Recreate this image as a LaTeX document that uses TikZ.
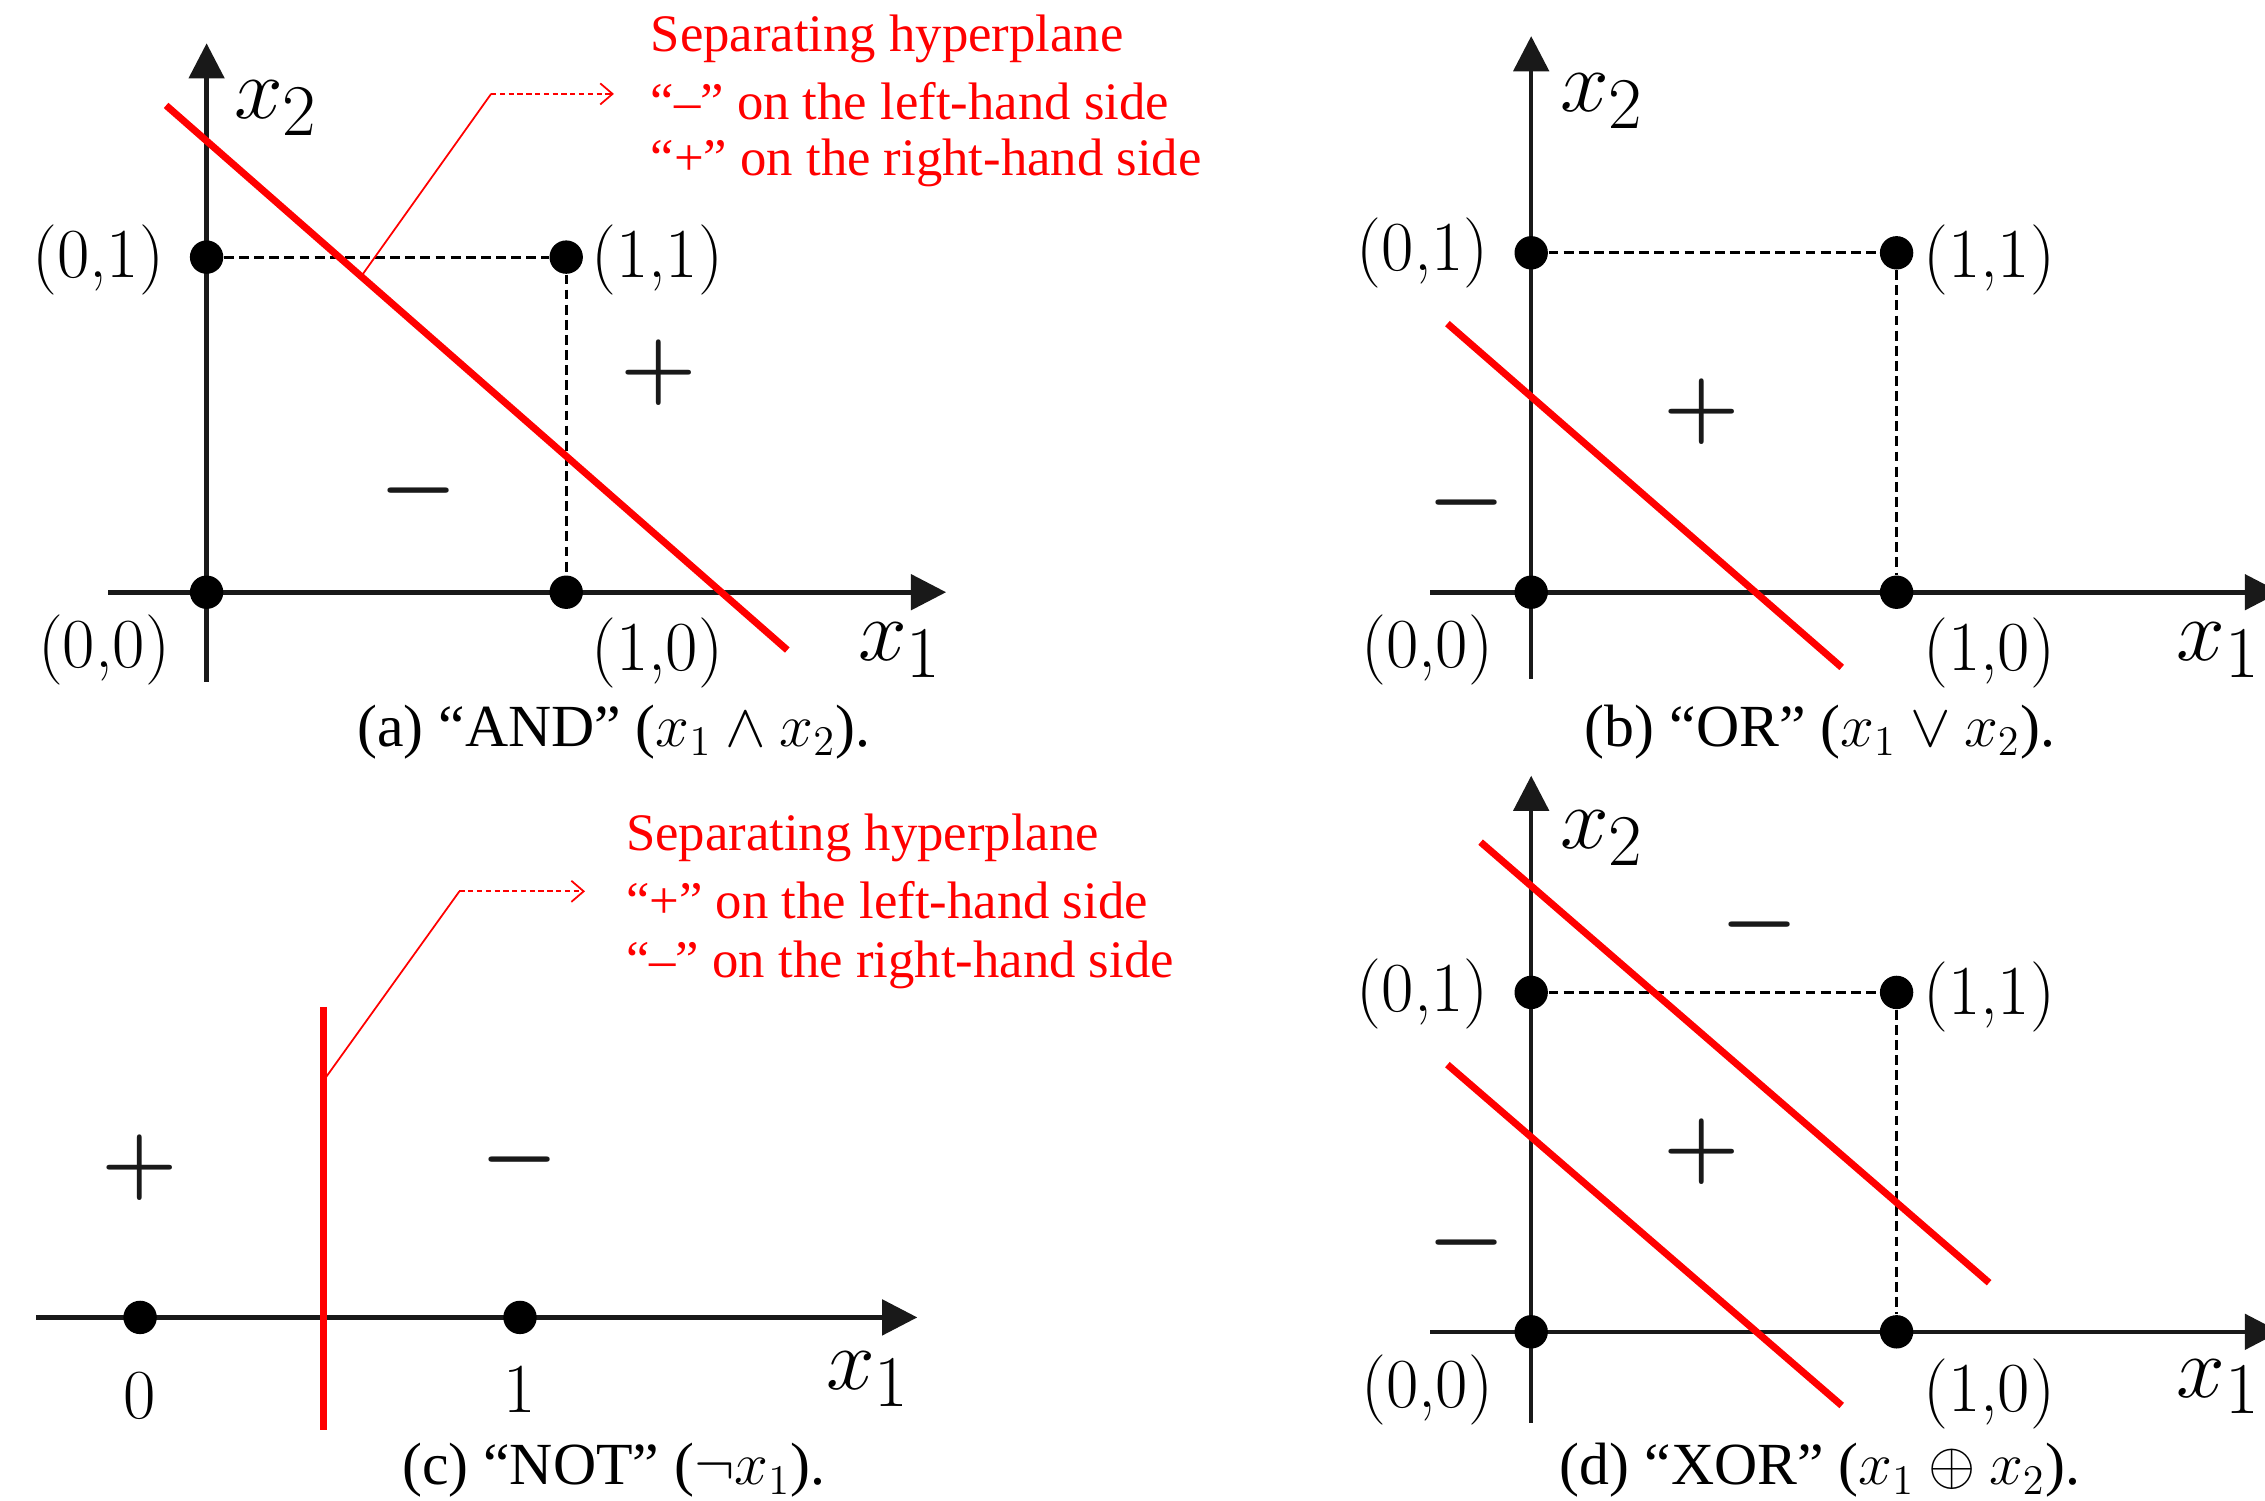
\documentclass[tikz,border=0pt]{standalone}
\usepackage{fontspec}
\newfontfamily\capfont{Liberation Serif}
\usetikzlibrary{arrows.meta}
\begin{document}
\begin{tikzpicture}[x=0.2845pt,y=-0.2845pt,
 axis/.style={line width=1.3pt, black!90, -{Triangle[length=10pt,width=10pt]}},
 dot/.style={circle, fill=black, inner sep=0pt, minimum size=9.5pt},
 sep/.style={red, line width=2pt},
 grid/.style={line width=0.8pt, dash pattern=on 2.8pt off 1.5pt},
 call/.style={red, line width=0.5pt},
 callarrow/.style={red, line width=0.5pt, dash pattern=on 1.5pt off 1pt, -{Straight Barb[length=3.5pt,width=6pt]}},
 lab/.style={font=\fontsize{20}{24}\selectfont},
 axlab/.style={font=\fontsize{28}{32}\selectfont},
 sign/.style={font=\fontsize{38}{42}\selectfont\boldmath, black!90},
 capt/.style={font=\capfont\fontsize{17}{20}\selectfont},
 note/.style={font=\capfont\fontsize{15}{18}\selectfont, text=red, anchor=west, inner sep=0pt}
]
\path[use as bounding box] (0,0) rectangle (2265,1500);
\clip (0,0) rectangle (2265,1500);

% ---------------- panel (a) ----------------
\coordinate (a-yb) at (206.6,681.8); \coordinate (a-yt) at (206.6,43.3);
\coordinate (a-xl) at (108.3,592.2); \coordinate (a-xr) at (946.1,592.2);
\draw[axis] (a-yb) -- (a-yt);
\draw[axis] (a-xl) -- (a-xr);
\node[dot] (a00) at (206.6,592.2) {};
\node[dot] (a10) at (566.2,592.2) {};
\node[dot] (a01) at (206.6,257.1) {};
\node[dot] (a11) at (566.2,257.1) {};
\draw[grid] (a01) -- (a11);
\draw[grid] (a11) -- (a10);
\coordinate (a-h1) at (166.1,105.4); \coordinate (a-h2) at (787.3,650);
\draw[sep] (a-h1) -- (a-h2);
\coordinate (a-c0) at (361.1,276.5); \coordinate (a-ck) at (491.1,93.9); \coordinate (a-ce) at (613.9,93.9);
\draw[call] (a-c0) -- (a-ck);
\draw[callarrow] (a-ck) -- (a-ce);
\node[note] (a-n1) at (650,39) {Separating hyperplane};
\node[note] (a-n2) at (650,101) {“–” on the left-hand side};
\node[note] (a-n3) at (650,163) {“+” on the right-hand side};
\node[axlab] (a-x2) at (276,108.3) {$x_2$};
\node[axlab] (a-x1) at (900,650) {$x_1$};
\node[sign] (a-p) at (658.7,372.7) {$+$};
\node[sign] (a-m) at (418.9,491.1) {$-$};
\node[lab] (a-l01) at (98.2,260) {(0,1)};
\node[lab] (a-l11) at (657.2,260) {(1,1)};
\node[lab] (a-l00) at (104,650) {(0,0)};
\node[lab] (a-l10) at (657.2,652.9) {(1,0)};
\node[capt] (a-cap) at (613.9,732.4) {(a) “AND” ($x_1 \wedge x_2$).};

% ---------------- panel (b) ----------------
\coordinate (b-yb) at (1531.2,678.9); \coordinate (b-yt) at (1531.2,36.1);
\coordinate (b-xl) at (1430,592.2); \coordinate (b-xr) at (2280,592.2);
\draw[axis] (b-yb) -- (b-yt);
\draw[axis] (b-xl) -- (b-xr);
\node[dot] (b00) at (1531.2,592.2) {};
\node[dot] (b10) at (1896.6,592.2) {};
\node[dot] (b01) at (1531.2,252.8) {};
\node[dot] (b11) at (1896.6,252.8) {};
\draw[grid] (b01) -- (b11);
\draw[grid] (b11) -- (b10);
\coordinate (b-h1) at (1447.4,323.6); \coordinate (b-h2) at (1841.7,667.4);
\draw[sep] (b-h1) -- (b-h2);
\node[axlab] (b-x2) at (1602,101.1) {$x_2$};
\node[axlab, anchor=east, inner sep=1pt] (b-x1) at (2265,650) {$x_1$};
\node[sign] (b-p) at (1701.6,411.7) {$+$};
\node[sign] (b-m) at (1466.2,502.7) {$-$};
\node[lab] (b-l01) at (1422.8,252.8) {(0,1)};
\node[lab] (b-l11) at (1989.1,260) {(1,1)};
\node[lab] (b-l00) at (1427.2,650) {(0,0)};
\node[lab] (b-l10) at (1989.1,652.9) {(1,0)};
\node[capt] (b-cap) at (1820,732.4) {(b) “OR” ($x_1 \vee x_2$).};

% ---------------- panel (c) ----------------
\coordinate (c-xl) at (36.1,1317.4); \coordinate (c-xr) at (917.3,1317.4);
\draw[axis] (c-xl) -- (c-xr);
\node[dot] (c0) at (140.1,1317.4) {};
\node[dot] (c1) at (520,1317.4) {};
\coordinate (c-h1) at (323.6,1006.8); \coordinate (c-h2) at (323.6,1430);
\draw[sep] (c-h1) -- (c-h2);
\coordinate (c-c0) at (323.6,1080.5); \coordinate (c-ck) at (459.4,891.3); \coordinate (c-ce) at (585,891.3);
\draw[call] (c-c0) -- (c-ck);
\draw[callarrow] (c-ck) -- (c-ce);
\node[note] (c-n1) at (625.5,837.8) {Separating hyperplane};
\node[note] (c-n2) at (625.5,899.9) {“+” on the left-hand side};
\node[note] (c-n3) at (625.5,964.9) {“–” on the right-hand side};
\node[lab] (c-l0) at (140.1,1395.4) {0};
\node[lab] (c-l1) at (520,1389.6) {1};
\node[axlab] (c-x1) at (868,1379.5) {$x_1$};
\node[sign] (c-p) at (140.1,1167.2) {$+$};
\node[sign] (c-m) at (520,1160) {$-$};
\node[capt] (c-cap) at (613.9,1470.5) {(c) “NOT” ($\neg x_1$).};

% ---------------- panel (d) ----------------
\coordinate (d-yb) at (1531.2,1422.8); \coordinate (d-yt) at (1531.2,775.7);
\coordinate (d-xl) at (1430,1331.8); \coordinate (d-xr) at (2280,1331.8);
\draw[axis] (d-yb) -- (d-yt);
\draw[axis] (d-xl) -- (d-xr);
\node[dot] (d00) at (1531.2,1331.8) {};
\node[dot] (d10) at (1896.6,1331.8) {};
\node[dot] (d01) at (1531.2,992.4) {};
\node[dot] (d11) at (1896.6,992.4) {};
\draw[grid] (d01) -- (d11);
\draw[grid] (d11) -- (d10);
\coordinate (d-h1) at (1480.6,842.1); \coordinate (d-h2) at (1989.1,1282.7);
\draw[sep] (d-h1) -- (d-h2);
\coordinate (d-g1) at (1447.4,1064.6); \coordinate (d-g2) at (1841.7,1405.5);
\draw[sep] (d-g1) -- (d-g2);
\node[axlab] (d-x2) at (1602,837.8) {$x_2$};
\node[axlab, anchor=east, inner sep=1pt] (d-x1) at (2265,1386.7) {$x_1$};
\node[sign] (d-m1) at (1759.4,924.5) {$-$};
\node[sign] (d-p) at (1701.6,1151.3) {$+$};
\node[sign] (d-m2) at (1466.2,1242.3) {$-$};
\node[lab] (d-l01) at (1422.8,993.8) {(0,1)};
\node[lab] (d-l11) at (1989.1,996.7) {(1,1)};
\node[lab] (d-l00) at (1427.2,1389.6) {(0,0)};
\node[lab] (d-l10) at (1989.1,1394) {(1,0)};
\node[capt] (d-cap) at (1820,1470.5) {(d) “XOR” ($x_1 \oplus x_2$).};
\end{tikzpicture}
\end{document}
